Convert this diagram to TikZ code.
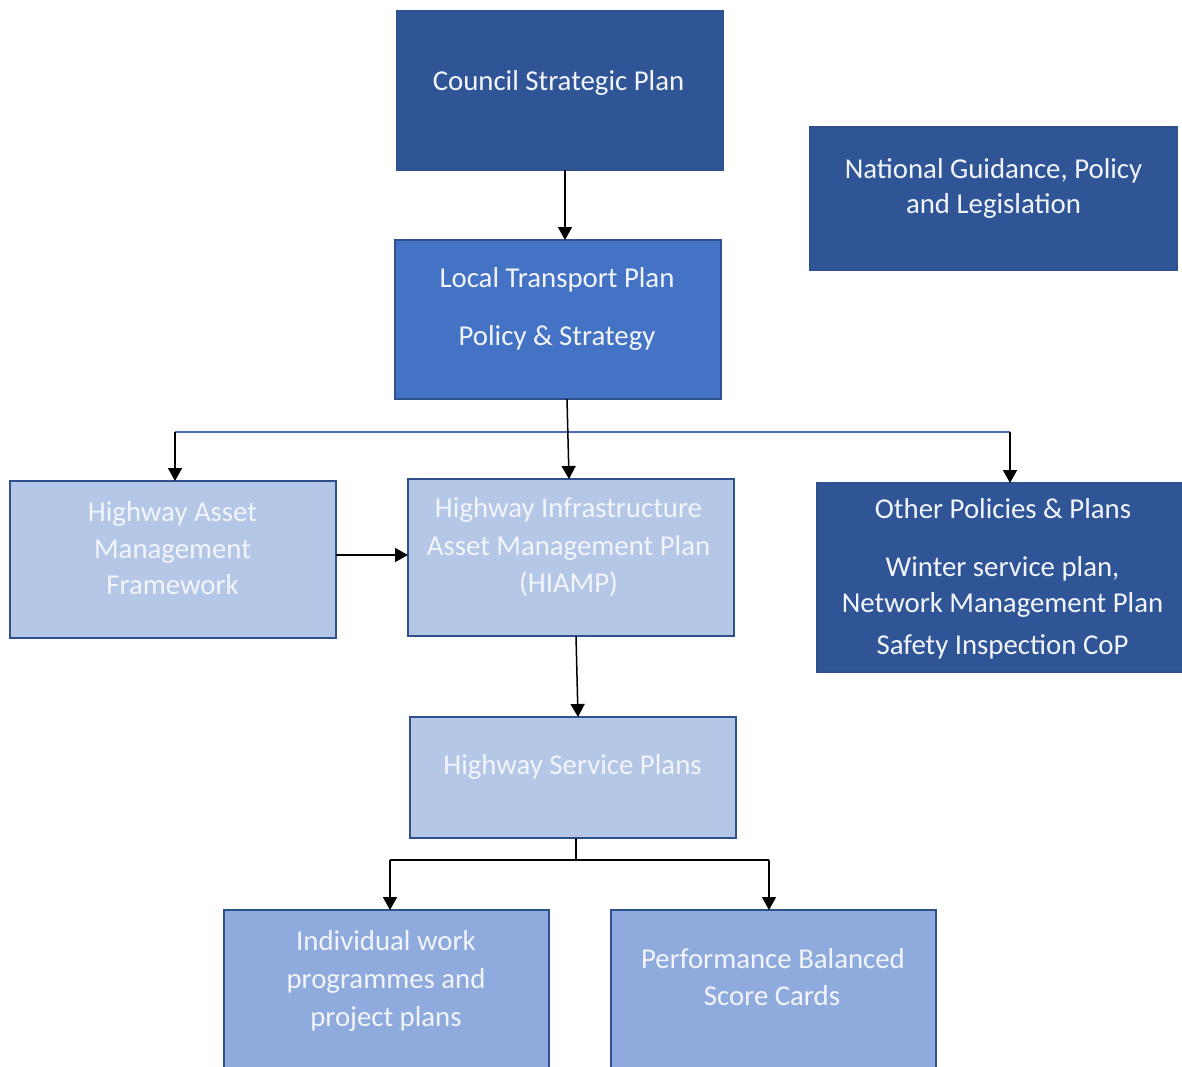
\documentclass[tikz,border=0pt]{standalone}
\usepackage{fontspec}
\setmainfont{Carlito}
\usetikzlibrary{arrows.meta,calc}
\definecolor{dkblue}{HTML}{2F5597}
\definecolor{mdblue}{HTML}{4472C4}
\definecolor{ltblue}{HTML}{B4C7E7}
\definecolor{lbblue}{HTML}{8FAADC}
\definecolor{edgeblue}{HTML}{2F528F}
\definecolor{linkblue}{HTML}{4A6FB0}
\definecolor{softwhite}{HTML}{F2F5FB}
\begin{document}
\begin{tikzpicture}[x=1pt,y=-1pt,
  box/.style={draw=edgeblue,line width=1.3pt,inner sep=0pt,outer sep=0pt,rectangle},
  txt/.style={text=softwhite,font=\fontsize{28.8}{34}\selectfont,anchor=base,inner sep=0pt},
  arr/.style={draw=black,line width=1.5pt,-{Triangle[width=14pt,length=13pt]}},
  ln/.style={draw=black,line width=1.5pt}]
\useasboundingbox (0,0) rectangle (1182,1066);
\clip (0,0) rectangle (1182,1066);
\fill[white] (0,0) rectangle (1182,1066);

% boxes
\node[box,fill=dkblue,minimum width=326pt,minimum height=159pt] (council) at (560,90.5) {};
\node[box,fill=dkblue,minimum width=367pt,minimum height=143pt] (national) at (993.5,198.5) {};
\node[box,fill=mdblue,minimum width=326pt,minimum height=159pt] (ltp) at (558,319.5) {};
\node[box,fill=ltblue,minimum width=326pt,minimum height=157pt] (hamf) at (173,559.5) {};
\node[box,fill=ltblue,minimum width=326pt,minimum height=157pt] (hiamp) at (571,557.5) {};
\node[box,fill=dkblue,minimum width=371pt,minimum height=189pt] (other) at (1002.5,577.5) {};
\node[box,fill=ltblue,minimum width=326pt,minimum height=121pt] (hsp) at (573,777.5) {};
\node[box,fill=lbblue,minimum width=325pt,minimum height=170pt] (indiv) at (386.5,995) {};
\node[box,fill=lbblue,minimum width=325pt,minimum height=170pt] (perf) at (773.5,995) {};

% texts
\node[txt] (tc1) at (558.5,90.5) {Council Strategic Plan};
\node[txt] (tn1) at (993.5,178.5) {National Guidance, Policy};
\node[txt] (tn2) at (993.5,213.5) {and Legislation};
\node[txt] (tl1) at (557,287.5) {Local Transport Plan};
\node[txt] (tl2) at (557,345.5) {Policy \& Strategy};
\node[txt] (th1) at (172.5,521.5) {Highway Asset};
\node[txt] (th2) at (172.5,558.5) {Management};
\node[txt] (th3) at (172.5,594.5) {Framework};
\node[txt] (ti1) at (568.5,517.5) {Highway Infrastructure};
\node[txt] (ti2) at (568.5,555.5) {Asset Management Plan};
\node[txt] (ti3) at (568.5,592.5) {(HIAMP)};
\node[txt] (to1) at (1003,518.5) {Other Policies \& Plans};
\node[txt] (to2) at (1002.5,576.5) {Winter service plan,};
\node[txt] (to3) at (1002.5,612.5) {Network Management Plan};
\node[txt] (to4) at (1002.5,654.5) {Safety Inspection CoP};
\node[txt] (ts1) at (572.5,774.5) {Highway Service Plans};
\node[txt] (tw1) at (386,950.5) {Individual work};
\node[txt] (tw2) at (386,988.5) {programmes and};
\node[txt] (tw3) at (386,1026.5) {project plans};
\node[txt] (tp1) at (773,968.5) {Performance Balanced};
\node[txt] (tp2) at (772,1005.5) {Score Cards};

% connectors
\coordinate (jl) at (175,432);
\coordinate (jr) at (1010,432);
\coordinate (jb) at (576,860);
\coordinate (jbl) at (390,860);
\coordinate (jbr) at (769,860);

\draw[arr] ($(council.south)+(5,0)$) -- ($(ltp.north)+(7,0)$);
\draw[draw=linkblue,line width=1.4pt] (jl) -- (jr);
\draw[arr] (jl) -- (jl |- hamf.north);
\draw[arr] (jr) -- (jr |- other.north);
\draw[arr] ($(ltp.south)+(9,0)$) -- ($(hiamp.north)+(-2,0)$);
\draw[arr] ($(hamf.east)+(0,-4.5)$) -- ($(hiamp.west)+(0,-2.5)$);
\draw[arr] ($(hiamp.south)+(5,0)$) -- ($(hsp.north)+(5,0)$);
\draw[ln] (jb |- hsp.south) -- (jb);
\draw[ln] (jbl) -- (jbr);
\draw[arr] (jbl) -- (jbl |- indiv.north);
\draw[arr] (jbr) -- (jbr |- perf.north);
\end{tikzpicture}
\end{document}
